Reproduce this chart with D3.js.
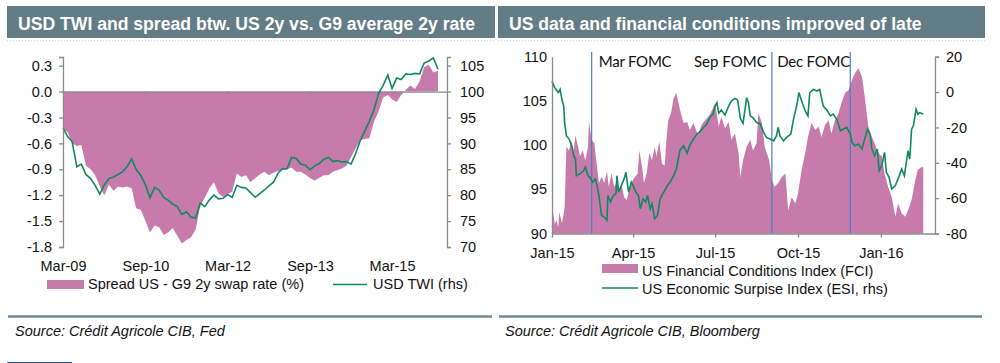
<!DOCTYPE html>
<html lang="en">
<head>
<meta charset="utf-8" />
<title>USD TWI and US financial conditions</title>
<script src="https://cdnjs.cloudflare.com/ajax/libs/d3/7.8.5/d3.min.js"></script>
<style>
    body { margin: 0; background: #fff; }
    svg text { font-family: "Liberation Sans", Arial, sans-serif; fill: #111; }
</style>
</head>
<body>
<svg id="chart" width="1000" height="363"></svg>
<script>
// ---------- left panel: monthly, Mar-09 .. Jan-16 ----------
const leftStart = new Date(2009, 2, 1);
// spread US - G9 2y swap rate (%)
const spread = [
    -0.43, -0.47, -0.60, -0.63, -0.62, -0.86, -0.90, -0.97, -1.10, -1.20,
    -1.08, -1.15, -1.10, -1.11, -1.10, -1.12, -1.35, -1.37, -1.50, -1.63,
    -1.55, -1.57, -1.66, -1.63, -1.58, -1.67, -1.76, -1.72, -1.69, -1.60,
    -1.32, -1.23, -1.12, -1.05, -1.18, -1.22, -1.19, -1.16, -0.95, -0.99,
    -0.97, -1.05, -1.00, -0.96, -0.93, -0.97, -0.94, -0.92, -0.91, -0.90,
    -0.88, -0.93, -0.93, -0.96, -1.00, -1.03, -1.00, -0.97, -0.97, -0.93,
    -0.91, -0.89, -0.86, -0.76, -0.66, -0.56, -0.55, -0.54, -0.35, -0.23,
    -0.07, -0.04, -0.09, -0.12, -0.04, 0.02, 0.07, 0.03, 0.12, 0.28,
    0.31, 0.22, 0.24
];
// USD trade weighted index (rhs)
const twi = [
    93.0, 91.3, 90.3, 85.5, 86.0, 84.0, 83.2, 81.9, 80.2, 82.0,
    83.2, 83.5, 84.0, 84.5, 85.5, 87.0, 85.0, 83.8, 82.0, 79.5,
    81.5, 81.0, 79.5, 79.0, 78.3, 77.8, 76.3, 76.8, 75.8, 75.6,
    78.5, 77.8, 79.1, 80.0, 79.3, 79.4, 80.1, 79.6, 81.9, 81.5,
    81.4, 80.5, 79.6, 80.3, 81.0, 81.8, 82.5, 84.3, 85.1, 85.1,
    87.3, 87.1, 86.0, 85.8, 84.9, 85.6, 86.1, 86.9, 87.3, 86.5,
    86.7, 86.4, 86.5, 86.0, 88.0, 90.5, 92.4, 94.3, 96.5, 99.6,
    101.2, 103.2, 100.6, 102.6, 102.3, 103.4, 103.3, 103.5, 103.4, 105.5,
    105.9, 106.5, 104.3
];
const leftTicks = ["2009-03", "2010-09", "2012-03", "2013-09", "2015-03"];
const spreadTicks = [0.3, 0.0, -0.3, -0.6, -0.9, -1.2, -1.5, -1.8];
const twiTicks = [105, 100, 95, 90, 85, 80, 75, 70];

// ---------- right panel: [days since 1 Jan 2015, value] ----------
const rightStart = new Date(2015, 0, 1);
const fci = [
    [1, 92.6], [3, 91.1], [5, 91.5], [7, 90.7], [8, 92.4], [11, 91.2], [13, 92.3], [14, 93.0],
    [16, 99.8], [19, 99.4], [21, 100.6], [24, 99.4], [26, 101.1], [29, 99.8], [31, 98.7], [34, 99.4],
    [37, 98.3], [40, 99.8], [41, 102.6], [44, 100.6], [47, 100.2], [50, 97.5], [52, 95.7], [55, 96.4],
    [58, 95.7], [61, 97.0], [63, 95.3], [66, 96.8], [69, 95.3], [72, 95.7], [74, 94.7], [77, 95.7],
    [80, 94.1], [83, 93.8], [85, 94.7], [88, 95.7], [92, 96.4], [95, 96.8], [97, 99.4], [100, 97.5],
    [102, 95.7], [105, 96.8], [108, 99.1], [111, 98.3], [114, 99.8], [116, 98.7], [119, 100.4], [122, 97.9],
    [125, 97.7], [127, 100.6], [129, 102.8], [132, 103.6], [135, 105.3], [138, 105.9], [142, 104.0], [146, 102.5],
    [150, 102.6], [153, 101.7], [157, 102.5], [162, 101.1], [166, 102.3], [170, 102.8], [175, 103.4], [181, 104.7],
    [185, 102.1], [188, 103.2], [192, 101.9], [196, 102.6], [199, 100.6], [203, 101.3], [207, 99.1], [209, 96.4],
    [212, 98.3], [216, 99.8], [220, 100.6], [223, 99.4], [227, 100.2], [229, 103.6], [233, 102.5], [236, 99.8],
    [241, 98.3], [244, 96.0], [247, 95.3], [251, 95.7], [255, 96.4], [259, 96.8], [262, 92.6], [266, 94.1],
    [270, 93.4], [273, 94.5], [277, 97.2], [281, 99.1], [284, 100.9], [288, 102.5], [292, 101.7], [296, 102.1],
    [299, 100.9], [303, 102.3], [307, 102.8], [310, 101.3], [314, 102.8], [318, 103.6], [321, 104.7], [325, 105.9],
    [329, 106.2], [333, 107.4], [336, 108.1], [340, 108.7], [344, 107.7], [347, 105.5], [351, 102.1], [355, 100.9],
    [358, 100.2], [362, 99.1], [366, 98.7], [369, 96.8], [373, 95.3], [377, 94.1], [381, 91.9], [384, 93.4],
    [388, 92.3], [392, 91.9], [395, 92.6], [399, 93.8], [403, 96.0], [406, 97.2], [410, 97.5], [412, 97.5]
];
const esi = [
    [0, 6.2], [3, 2.5], [7, -0.3], [9, 1.5], [11, -4.1], [13, -7.9], [14, -17.2], [16, -24.8],
    [19, -26.6], [22, -30.4], [24, -36.0], [26, -37.9], [27, -47.3], [31, -46.3], [35, -44.5], [37, -42.5],
    [40, -47.3], [42, -48.2], [45, -51.0], [48, -49.1], [50, -52.9], [52, -58.5], [55, -69.8], [58, -70.7],
    [61, -72.6], [62, -58.5], [65, -62.2], [68, -58.5], [71, -57.6], [72, -47.3], [74, -56.6], [77, -52.9],
    [80, -49.1], [82, -45.4], [85, -56.6], [88, -51.0], [90, -52.9], [93, -56.6], [96, -58.5], [98, -66.0],
    [101, -60.4], [104, -62.2], [106, -58.5], [109, -66.0], [111, -63.2], [114, -71.6], [117, -69.8], [120, -60.4],
    [122, -58.5], [125, -55.7], [128, -52.9], [131, -51.0], [135, -47.3], [138, -43.5], [142, -33.0], [146, -30.4],
    [150, -34.5], [153, -30.0], [157, -26.5], [161, -23.8], [164, -22.5], [168, -20.0], [172, -18.0], [175, -14.5],
    [179, -12.0], [181, -7.9], [183, -6.0], [185, -12.0], [188, -10.2], [192, -13.0], [196, -7.9], [199, -5.1],
    [203, -3.6], [206, -4.5], [209, -15.0], [212, -17.7], [216, -3.2], [218, -6.0], [220, -13.5], [223, -14.4],
    [227, -17.2], [231, -18.0], [235, -23.0], [238, -25.7], [242, -26.6], [246, -27.6], [249, -24.8], [251, -20.0],
    [253, -24.8], [257, -27.6], [260, -25.7], [265, -23.8], [268, -15.4], [272, -6.5], [274, -0.3], [277, -5.1],
    [281, -10.7], [284, -13.5], [286, -0.3], [290, 1.5], [294, 0.6], [297, 1.5], [301, -7.9], [305, -10.2],
    [309, -13.5], [312, -12.5], [316, -15.4], [320, -21.9], [323, -21.0], [327, -20.0], [331, -23.8], [333, -28.5],
    [336, -30.4], [340, -29.4], [344, -32.2], [347, -26.6], [350, -21.0], [353, -23.8], [355, -32.2], [358, -36.0],
    [361, -32.2], [363, -44.5], [366, -41.6], [369, -34.1], [371, -45.4], [374, -48.2], [377, -54.8], [381, -52.9],
    [384, -49.1], [388, -43.5], [391, -47.3], [394, -36.9], [395, -33.2], [397, -37.9], [399, -21.0], [401, -19.1],
    [404, -9.7], [406, -12.5], [408, -11.6], [412, -12.5]
];
const fomcLabels = ["Mar FOMC", "Sep FOMC", "Dec FOMC"];
const fomcDay = [44, 244, 331];
const rightTicks = ["2015-01", "2015-04", "2015-07", "2015-10", "2016-01"];
const fciTicks = [90, 95, 100, 105, 110];
const esiTicks = [20, 0, -20, -40, -60, -80];

// ---------- drawing ----------
const pink = "#c77aac";
const green = "#108a5c";
const axisGrey = "#8a8a8a";
const headerFill = "#627d86";
const parseMonth = d3.timeParse("%Y-%m");
const fmtMonth = d3.timeFormat("%b-%y");

const svg = d3.select("#chart");

function styleAxis(g) {
    g.selectAll("path, line").attr("stroke", axisGrey).attr("stroke-width", 1.3);
    g.selectAll("text").attr("font-size", "14.5px").attr("fill", "#111")
        .attr("font-family", '"Liberation Sans", Arial, sans-serif');
}

// headers
const headers = [
    { x: 7, w: 488, text: "USD TWI and spread btw. US 2y vs. G9 average 2y rate" },
    { x: 498, w: 487, text: "US data and financial conditions improved of late" }
];
headers.forEach(h => {
    svg.append("rect").attr("x", h.x).attr("y", 6).attr("width", h.w).attr("height", 32)
        .attr("fill", headerFill);
    svg.append("line").attr("x1", h.x).attr("x2", h.x + h.w).attr("y1", 40.5).attr("y2", 40.5)
        .attr("stroke", "#d6d6d6").attr("stroke-dasharray", "1,2");
    svg.append("text").attr("x", h.x + 11).attr("y", 30)
        .attr("font-size", "17.6px").attr("font-weight", "bold").style("fill", "#fff")
        .text(h.text);
    // rule above the source line
    svg.append("line").attr("x1", h.x + 1).attr("x2", h.x + h.w - 3).attr("y1", 316.5).attr("y2", 316.5)
        .attr("stroke", "#6f8992").attr("stroke-width", 2.5);
});

// ===== left chart =====
const months = spread.map((d, i) => d3.timeMonth.offset(leftStart, i));
const xL = d3.scaleTime().domain([new Date(2009, 2, 1), new Date(2016, 2, 1)]).range([63, 447]);
const yL = d3.scaleLinear().domain([-1.8, 0.4]).range([247, 57]);
const yL2 = d3.scaleLinear().domain([70, 106.667]).range([247, 57]);

svg.append("path")
    .datum(spread)
    .attr("fill", pink)
    .attr("d", d3.area()
        .x((d, i) => xL(months[i]))
        .y0(yL(0))
        .y1(d => yL(d)));

// zero line with small ticks
const zeroAxis = svg.append("g")
    .attr("transform", `translate(0,${yL(0)})`)
    .call(d3.axisBottom(xL).tickValues(leftTicks.map(parseMonth)).tickSize(3).tickSizeOuter(0).tickFormat(""));
styleAxis(zeroAxis);

svg.append("path")
    .datum(twi)
    .attr("fill", "none")
    .attr("stroke", green)
    .attr("stroke-width", 1.6)
    .attr("d", d3.line().x((d, i) => xL(months[i])).y(d => yL2(d)));

// x labels at bottom
const xLab = svg.append("g")
    .attr("transform", `translate(0,${yL(-1.8)})`)
    .call(d3.axisBottom(xL).tickValues(leftTicks.map(parseMonth)).tickSize(0).tickFormat(fmtMonth));
styleAxis(xLab);
xLab.select(".domain").remove();
xLab.selectAll("text").attr("y", 23.5).attr("dy", null);

const yLeftAxis = svg.append("g")
    .attr("transform", "translate(63,0)")
    .call(d3.axisLeft(yL).tickValues(spreadTicks).tickSize(4).tickPadding(7).tickFormat(d => d.toFixed(1)));
styleAxis(yLeftAxis);

const yRightAxis = svg.append("g")
    .attr("transform", "translate(447,0)")
    .call(d3.axisRight(yL2).tickValues(twiTicks).tickSize(4).tickPadding(9).tickFormat(d => String(d)));
styleAxis(yRightAxis);

// left legend
svg.append("rect").attr("x", 47).attr("y", 280).attr("width", 37).attr("height", 9).attr("fill", pink);
svg.append("text").attr("x", 88).attr("y", 289).attr("font-size", "14.5px").text("Spread US - G9 2y swap rate (%)");
svg.append("line").attr("x1", 333).attr("x2", 367).attr("y1", 284.5).attr("y2", 284.5)
    .attr("stroke", green).attr("stroke-width", 1.5);
svg.append("text").attr("x", 373).attr("y", 289).attr("font-size", "14.5px").text("USD TWI (rhs)");

// ===== right chart =====
const dayDate = d => d3.timeDay.offset(rightStart, d);
const xR = d3.scaleTime().domain([new Date(2015, 0, 1), new Date(2016, 2, 1)]).range([552, 935]);
const yR = d3.scaleLinear().domain([90, 110]).range([233.5, 56.7]);
const yR2 = d3.scaleLinear().domain([-80, 20]).range([233.5, 56.7]);

svg.append("path")
    .datum(fci)
    .attr("fill", pink)
    .attr("d", d3.area()
        .x(d => xR(dayDate(d[0])))
        .y0(yR(90))
        .y1(d => yR(d[1])));

// FOMC markers
fomcDay.forEach((d, i) => {
    const x = xR(dayDate(d));
    svg.append("line").attr("x1", x).attr("x2", x).attr("y1", 52).attr("y2", yR(90))
        .attr("stroke", "#4a7fc1").attr("stroke-width", 1.2);
});
const fomcAnchor = ["start", "end", "end"];
const fomcDx = [7, -5, 0];
fomcLabels.forEach((t, i) => {
    svg.append("text")
        .attr("x", xR(dayDate(fomcDay[i])) + fomcDx[i])
        .attr("y", 67)
        .attr("text-anchor", fomcAnchor[i])
        .attr("font-size", "15px")
        .attr("textLength", 73)
        .attr("lengthAdjust", "spacing")
        .style("font-family", "Lato, 'Open Sans', sans-serif")
        .text(t);
});

svg.append("path")
    .datum(esi)
    .attr("fill", "none")
    .attr("stroke", green)
    .attr("stroke-width", 1.6)
    .attr("d", d3.line().x(d => xR(dayDate(d[0]))).y(d => yR2(d[1])));

const xRAxis = svg.append("g")
    .attr("transform", `translate(0,${yR(90)})`)
    .call(d3.axisBottom(xR).tickValues(rightTicks.map(parseMonth)).tickSize(4).tickSizeOuter(0).tickFormat(fmtMonth));
styleAxis(xRAxis);
xRAxis.selectAll("text").attr("y", 24.5).attr("dy", null);

const yRLeft = svg.append("g")
    .attr("transform", "translate(552,0)")
    .call(d3.axisLeft(yR).tickValues(fciTicks).tickSize(0).tickPadding(5).tickFormat(d => String(d)));
styleAxis(yRLeft);

const yRRight = svg.append("g")
    .attr("transform", "translate(935,0)")
    .call(d3.axisRight(yR2).tickValues(esiTicks).tickSize(4).tickPadding(7).tickFormat(d => String(d)));
styleAxis(yRRight);

// right legend
svg.append("rect").attr("x", 602).attr("y", 264).attr("width", 36).attr("height", 9).attr("fill", pink);
svg.append("text").attr("x", 642).attr("y", 276).attr("font-size", "14.5px").text("US Financial Conditions Index (FCI)");
svg.append("line").attr("x1", 602).attr("x2", 638).attr("y1", 288).attr("y2", 288)
    .attr("stroke", green).attr("stroke-width", 1.5);
svg.append("text").attr("x", 642).attr("y", 294).attr("font-size", "14.5px").text("US Economic Surpise Index (ESI, rhs)");

// sources
svg.append("text").attr("x", 15).attr("y", 336).attr("font-size", "14.5px").attr("font-style", "italic")
    .text("Source: Crédit Agricole CIB, Fed");
svg.append("text").attr("x", 505).attr("y", 336).attr("font-size", "14.5px").attr("font-style", "italic")
    .text("Source: Crédit Agricole CIB, Bloomberg");

svg.append("line").attr("x1", 7).attr("x2", 72).attr("y1", 362.5).attr("y2", 362.5)
    .attr("stroke", "#2f55a4").attr("stroke-width", 1);
</script>
</body>
</html>
